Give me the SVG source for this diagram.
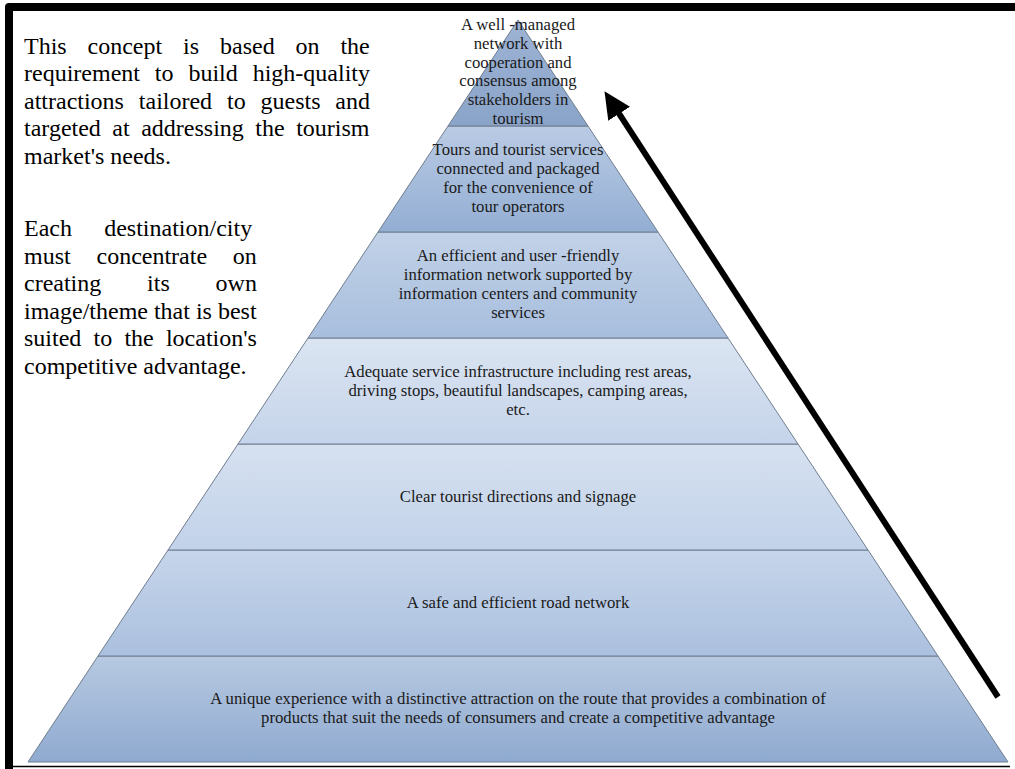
<svg xmlns="http://www.w3.org/2000/svg" width="1015" height="769" viewBox="0 0 1015 769">
<style>
.lt{font-family:"Liberation Serif","Times New Roman",Tinos,"DejaVu Serif",serif;font-size:24px;fill:#000}
.pt{font-family:"Liberation Serif","Times New Roman",Tinos,"DejaVu Serif",serif;font-size:16.7px;fill:#1a1a1a;text-anchor:middle}
.layer{stroke:#6f7d90;stroke-width:1}
</style>
<defs>
<linearGradient id="g1" x1="0" y1="0" x2="0" y2="1"><stop offset="0" stop-color="#9db3d4"/><stop offset="1" stop-color="#8aa4c9"/></linearGradient>
<linearGradient id="g2" x1="0" y1="0" x2="0" y2="1"><stop offset="0" stop-color="#bacbe4"/><stop offset="1" stop-color="#93aed3"/></linearGradient>
<linearGradient id="g3" x1="0" y1="0" x2="0" y2="1"><stop offset="0" stop-color="#c2d2e8"/><stop offset="1" stop-color="#a7bedd"/></linearGradient>
<linearGradient id="g4" x1="0" y1="0" x2="0" y2="1"><stop offset="0" stop-color="#dbe5f2"/><stop offset="1" stop-color="#c5d4ea"/></linearGradient>
<linearGradient id="g5" x1="0" y1="0" x2="0" y2="1"><stop offset="0" stop-color="#d6e1f0"/><stop offset="1" stop-color="#c2d2e9"/></linearGradient>
<linearGradient id="g6" x1="0" y1="0" x2="0" y2="1"><stop offset="0" stop-color="#c6d5ea"/><stop offset="1" stop-color="#abc0df"/></linearGradient>
<linearGradient id="g7" x1="0" y1="0" x2="0" y2="1"><stop offset="0" stop-color="#b7c9e1"/><stop offset="1" stop-color="#8faad0"/></linearGradient>
<marker id="ah" markerUnits="userSpaceOnUse" markerWidth="28" markerHeight="26" refX="2" refY="13" orient="auto" viewBox="0 0 28 26">
<path d="M0,0 L27,13 L0,26 Z" fill="#000"/>
</marker>
</defs>
<rect width="1015" height="769" fill="#fff"/>
<g id="frame">
<path d="M9,769 V7 H1015" fill="none" stroke="#000" stroke-width="8" stroke-linejoin="round"/>
<line x1="13" y1="766.5" x2="1010" y2="766.5" stroke="#000" stroke-width="1.5"/>
</g>
<g id="note-concept">
<text class="lt" x="24" y="53.5" word-spacing="14.9">This concept is based on the</text>
<text class="lt" x="24" y="81.1" word-spacing="8.9">requirement to build high-quality</text>
<text class="lt" x="24" y="108.7" word-spacing="8.85">attractions tailored to guests and</text>
<text class="lt" x="24" y="136.3" word-spacing="5.5">targeted at addressing the tourism</text>
<text class="lt" x="24" y="163.9">market's needs.</text>
</g>
<g id="note-destination">
<text class="lt" x="24" y="236" word-spacing="26.2">Each destination/city</text>
<text class="lt" x="24" y="263.6" word-spacing="19.8">must concentrate on</text>
<text class="lt" x="24" y="291.2" word-spacing="39.8">creating its own</text>
<text class="lt" x="24" y="318.8">image/theme that is best</text>
<text class="lt" x="24" y="346.4" word-spacing="6.2">suited to the location's</text>
<text class="lt" x="24" y="374">competitive advantage.</text>
</g>
<g id="layer7">
<polygon class="layer" points="98,656 938,656 1008,762 28,762" fill="url(#g7)"/>
<text class="pt" x="518" y="704">A unique experience with a distinctive attraction on the route that provides a combination of</text>
<text class="pt" x="518" y="723">products that suit the needs of consumers and create a competitive advantage</text>
</g>
<g id="layer6">
<polygon class="layer" points="168,550 868,550 938,656 98,656" fill="url(#g6)"/>
<text class="pt" x="518" y="607.5">A safe and efficient road network</text>
</g>
<g id="layer5">
<polygon class="layer" points="238,444 798,444 868,550 168,550" fill="url(#g5)"/>
<text class="pt" x="518" y="501.5">Clear tourist directions and signage</text>
</g>
<g id="layer4">
<polygon class="layer" points="308,338 728,338 798,444 238,444" fill="url(#g4)"/>
<text class="pt" x="518" y="376.5">Adequate service infrastructure including rest areas,</text>
<text class="pt" x="518" y="395.5">driving stops, beautiful landscapes, camping areas,</text>
<text class="pt" x="518" y="414.5">etc.</text>
</g>
<g id="layer3">
<polygon class="layer" points="378,232 658,232 728,338 308,338" fill="url(#g3)"/>
<text class="pt" x="518" y="261">An efficient and user -friendly</text>
<text class="pt" x="518" y="280">information network supported by</text>
<text class="pt" x="518" y="299">information centers and community</text>
<text class="pt" x="518" y="318">services</text>
</g>
<g id="layer2">
<polygon class="layer" points="448,126 588,126 658,232 378,232" fill="url(#g2)"/>
<text class="pt" x="518" y="155">Tours and tourist services</text>
<text class="pt" x="518" y="174">connected and packaged</text>
<text class="pt" x="518" y="193">for the convenience of</text>
<text class="pt" x="518" y="212">tour operators</text>
</g>
<g id="layer1">
<polygon class="layer" points="518,20 588,126 448,126" fill="url(#g1)"/>
<text class="pt" x="518" y="30">A well -managed</text>
<text class="pt" x="518" y="48.8">network with</text>
<text class="pt" x="518" y="67.6">cooperation and</text>
<text class="pt" x="518" y="86.4">consensus among</text>
<text class="pt" x="518" y="105.2">stakeholders in</text>
<text class="pt" x="518" y="124">tourism</text>
</g>
<g id="connectors">
<line x1="998" y1="697" x2="618.1" y2="112.1" stroke="#000" stroke-width="6" marker-end="url(#ah)"/>
</g>
</svg>
